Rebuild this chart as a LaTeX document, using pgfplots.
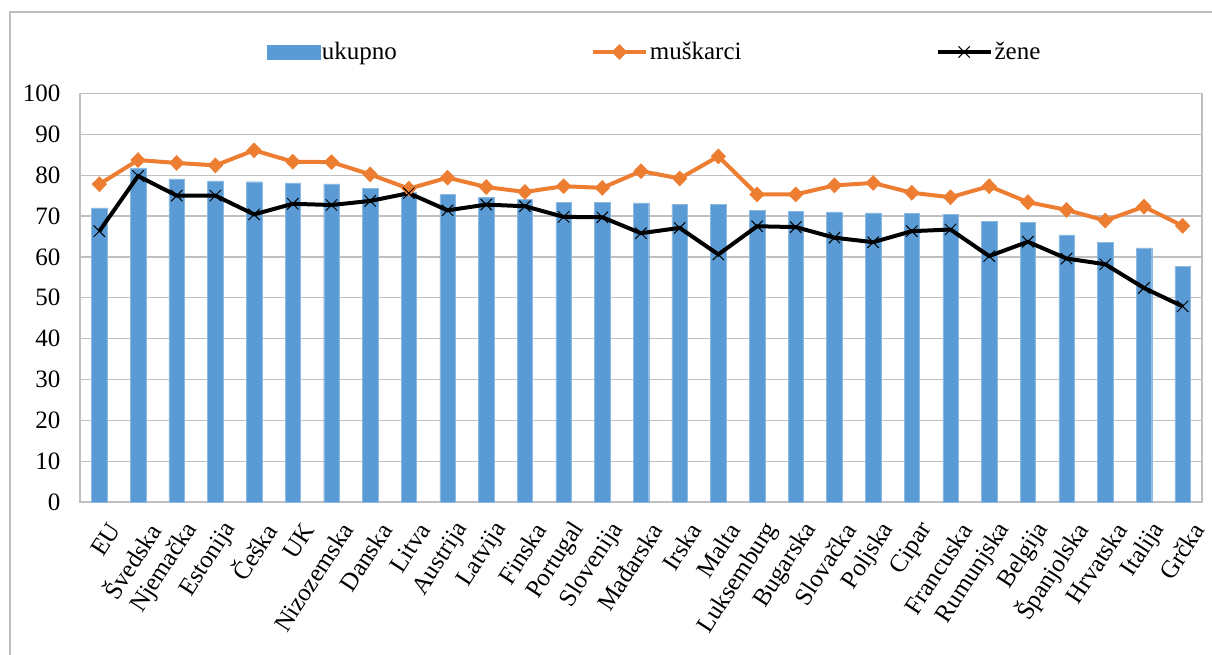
\documentclass[border=0pt]{standalone}
\usepackage{fontspec}
\setmainfont{Liberation Serif}
\usepackage{pgfplots}
\usepackage{pgfplotstable}
\pgfplotsset{compat=1.18}

\definecolor{barblue}{HTML}{5B9BD5}
\definecolor{mlorange}{HTML}{ED7D31}
\definecolor{gridgray}{HTML}{BFBFBF}

% x  ukupno  muskarci  zene
\pgfplotstableread{
x  uk    mu    ze
0  72.0  77.8  66.3
1  81.7  83.7  79.8
2  79.1  83.0  75.0
3  78.6  82.4  75.0
4  78.4  86.1  70.4
5  78.1  83.3  73.0
6  77.9  83.2  72.7
7  76.8  80.2  73.7
8  75.9  76.7  75.6
9  75.3  79.4  71.4
10 74.6  77.1  72.8
11 74.1  75.9  72.4
12 73.3  77.3  69.8
13 73.3  76.9  69.7
14 73.2  81.0  65.8
15 72.9  79.2  67.1
16 72.9  84.6  60.6
17 71.4  75.3  67.5
18 71.2  75.3  67.3
19 71.0  77.5  64.7
20 70.8  78.1  63.6
21 70.7  75.7  66.3
22 70.5  74.6  66.7
23 68.7  77.3  60.2
24 68.4  73.4  63.7
25 65.4  71.5  59.6
26 63.5  68.9  58.2
27 62.2  72.3  52.4
28 57.7  67.6  47.9
}\data

\newcommand\chartfont{\fontsize{25}{29}\selectfont}

\pgfplotsset{
  linelegend/.style={legend image code/.code={
    \draw[##1, mark=none] (0pt,0pt) -- (53pt,0pt);
    \draw[##1] plot[only marks] coordinates {(26.5pt,0pt)};}},
}

\begin{document}
\begin{tikzpicture}
\path[use as bounding box] (0,0) rectangle (1212pt,654pt);
\draw[gridgray, line width=1.2pt] (10pt,-5pt) -- (10pt,642pt) -- (1220pt,642pt);
\begin{axis}[
    at={(80pt,152pt)}, anchor=south west,
    scale only axis, width=1122pt, height=408.5pt,
    xmin=-0.5, xmax=28.5,
    ymin=0, ymax=100,
    ytick={0,10,...,100},
    xtick=data,
    xticklabels={EU,Švedska,Njemačka,Estonija,Češka,UK,Nizozemska,Danska,Litva,Austrija,Latvija,Finska,Portugal,Slovenija,Mađarska,Irska,Malta,Luksemburg,Bugarska,Slovačka,Poljska,Cipar,Francuska,Rumunjska,Belgija,Španjolska,Hrvatska,Italija,Grčka},
    tick label style={font=\chartfont},
    xticklabel style={rotate=57, anchor=east, inner sep=0pt, yshift=-26pt, xshift=-11pt},
    yticklabel style={anchor=east, xshift=-16pt},
    /pgf/number format/assume math mode=true,
    major tick length=0pt,
    ymajorgrids, grid style={gridgray, line width=1.2pt},
    axis line style={gridgray, line width=1.2pt},
    legend style={at={(0.512,1.1016)}, anchor=center, draw=none, fill=none,
      legend columns=3, font=\chartfont,
      nodes={inner sep=2pt},
      /tikz/every even column/.append style={column sep=192pt}},
    legend cell align=left,
]
\addplot[ybar, bar width=15.5pt, bar shift=0pt, fill=barblue, draw=barblue!70!white,
    legend image code/.code={\fill[barblue] (0pt,-7pt) rectangle (53pt,7pt);}]
    table[x=x, y=uk] {\data};
\addlegendentry{ukupno}
\addplot[mlorange, line width=4pt, mark=diamond*, mark size=7.5pt,
    mark options={xscale=1.3, line width=0.5pt, fill=mlorange}, linelegend]
    table[x=x, y=mu] {\data};
\addlegendentry{muškarci}
\addplot[black, line width=4pt, mark=x, mark size=8pt,
    mark options={line width=1pt}, linelegend]
    table[x=x, y=ze] {\data};
\addlegendentry{žene}
\end{axis}
\end{tikzpicture}
\end{document}
